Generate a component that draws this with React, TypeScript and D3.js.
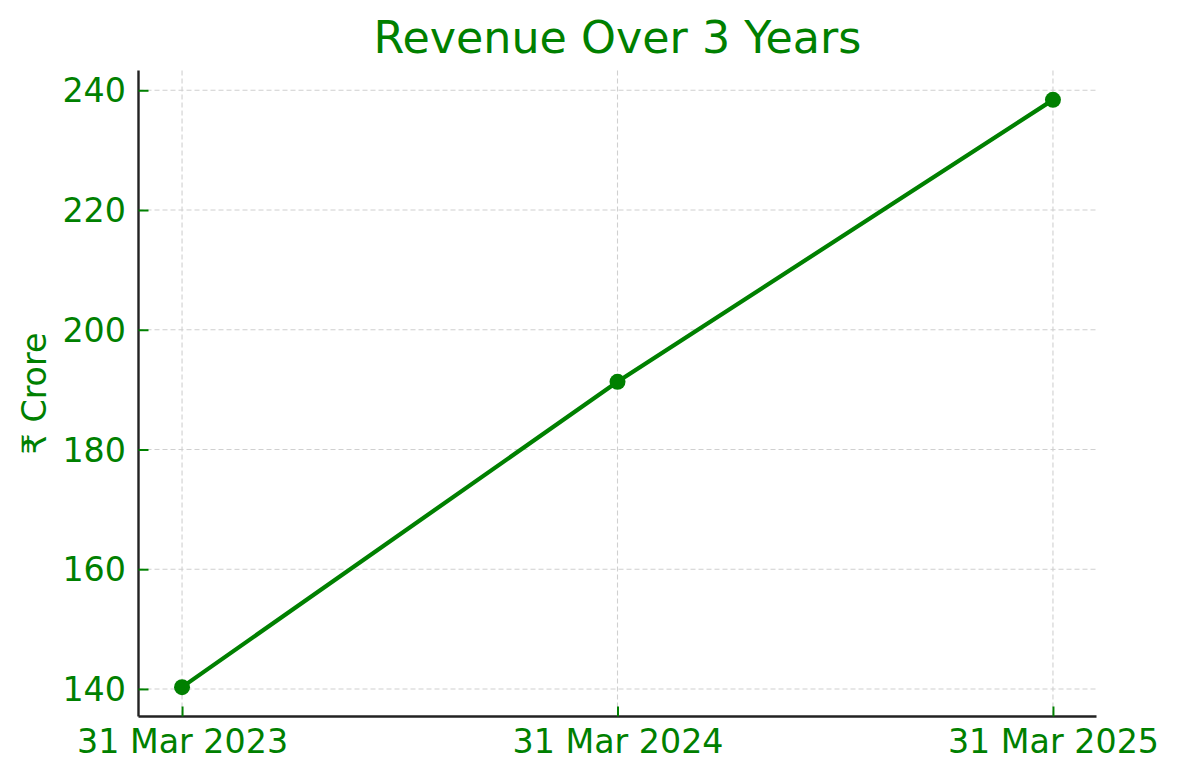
import { useEffect, useRef } from "react"
import * as d3 from "d3"

const dates = ["31 Mar 2023", "31 Mar 2024", "31 Mar 2025"]
const revenue = [140.3, 191.3, 238.4]
const yTicks = [140, 160, 180, 200, 220, 240]

export default function App() {
  const svgRef = useRef<SVGSVGElement>(null)

  useEffect(() => {
    if (!svgRef.current) return

    const width = 1178
    const height = 780
    const left = 138.5
    const right = 1096.5
    const top = 70.5
    const bottom = 716.5
    const green = "#008000"
    const font = "'DejaVu Sans', sans-serif"

    const svg = d3.select(svgRef.current).attr("width", width).attr("height", height)
    svg.selectAll("*").remove()

    const x = d3.scaleLinear().domain([-0.1, dates.length - 1 + 0.1]).range([left, right])
    const lo = d3.min(revenue)!
    const hi = d3.max(revenue)!
    const pad = (hi - lo) * 0.05
    const y = d3.scaleLinear().domain([lo - pad, hi + pad]).range([bottom, top])

    // grid
    const grid = svg.append("g").attr("stroke", "#d0d0d0").attr("stroke-width", 1.1).attr("stroke-dasharray", "5,3")
    grid
      .selectAll("line.h")
      .data(yTicks)
      .enter()
      .append("line")
      .attr("x1", left)
      .attr("x2", right)
      .attr("y1", (d) => y(d))
      .attr("y2", (d) => y(d))
    grid
      .selectAll("line.v")
      .data(dates)
      .enter()
      .append("line")
      .attr("x1", (d, i) => x(i))
      .attr("x2", (d, i) => x(i))
      .attr("y1", top)
      .attr("y2", bottom)

    // axes
    const yAxis = d3
      .axisLeft(y)
      .tickValues(yTicks)
      .tickSizeInner(-10)
      .tickSizeOuter(0)
      .tickPadding(12.5)
      .tickFormat((d) => String(d))
    const xAxis = d3
      .axisBottom(x)
      .tickValues(d3.range(dates.length))
      .tickSizeInner(-10)
      .tickSizeOuter(0)
      .tickPadding(12.5)
      .tickFormat((d) => dates[d as number])

    const gy = svg.append("g").attr("transform", `translate(${left},0)`).call(yAxis)
    const gx = svg.append("g").attr("transform", `translate(0,${bottom})`).call(xAxis)

    for (const g of [gx, gy]) {
      g.select(".domain").attr("stroke", "#222").attr("stroke-width", 2.4)
      g.selectAll(".tick line").attr("stroke", green).attr("stroke-width", 2)
      g.selectAll(".tick text")
        .attr("fill", green)
        .attr("font-family", font)
        .attr("font-size", "33.3px")
    }
    gy.select(".domain").attr("d", `M0,${top}V${bottom}`)
    gx.select(".domain").attr("d", `M${left},0H${right}`)
    gy.selectAll(".tick text").attr("dy", "0.35em")
    gx.selectAll(".tick text").attr("dy", "0.72em")

    // line
    const line = d3
      .line<number>()
      .x((d, i) => x(i))
      .y((d) => y(d))
    svg
      .append("path")
      .datum(revenue)
      .attr("d", line)
      .attr("fill", "none")
      .attr("stroke", green)
      .attr("stroke-width", 4.2)

    svg
      .selectAll("circle.pt")
      .data(revenue)
      .enter()
      .append("circle")
      .attr("cx", (d, i) => x(i))
      .attr("cy", (d) => y(d))
      .attr("r", 8)
      .attr("fill", green)

    // title
    svg
      .append("text")
      .attr("x", (left + right) / 2)
      .attr("y", 53)
      .attr("text-anchor", "middle")
      .attr("fill", green)
      .attr("font-family", font)
      .attr("font-size", "44.4px")
      .text("Revenue Over 3 Years")

    // y label
    svg
      .append("text")
      .attr("transform", `translate(46,${(top + bottom) / 2}) rotate(-90)`)
      .attr("text-anchor", "middle")
      .attr("fill", green)
      .attr("font-family", font)
      .attr("font-size", "33.3px")
      .text("₹ Crore")
  }, [])

  return <svg ref={svgRef} style={{ position: "absolute", left: 0, top: 0 }} />
}
